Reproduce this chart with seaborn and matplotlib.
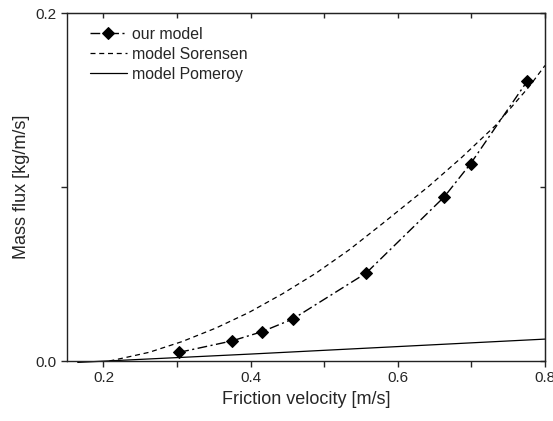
import matplotlib
matplotlib.use("Agg")
import matplotlib.pyplot as plt
import seaborn as sns
from matplotlib.ticker import MultipleLocator

# Data
our_u = [0.303, 0.374, 0.415, 0.457, 0.557, 0.663, 0.699, 0.776]
our_q = [0.0050, 0.0115, 0.0168, 0.0241, 0.0506, 0.0944, 0.1136, 0.1611]

sor_u = [0.208, 0.23, 0.262, 0.307, 0.353, 0.398, 0.443, 0.489, 0.534, 0.579,
         0.642, 0.687, 0.733, 0.778, 0.800]
sor_q = [0.0, 0.0020, 0.0050, 0.0112, 0.0190, 0.0280, 0.0386, 0.0506, 0.0640,
         0.0790, 0.1005, 0.1172, 0.1356, 0.1576, 0.1700]

pom_u = [0.165, 0.4, 0.6, 0.8]
pom_q = [-0.0008, 0.0040, 0.0083, 0.0126]

sns.set_style("ticks")
plt.rcParams['font.family'] = ['Liberation Sans', 'DejaVu Sans']

fig = plt.figure(figsize=(5.53, 4.21), dpi=100)
ax = fig.add_axes([0.1206, 0.1425, 0.865, 0.8259])

sns.lineplot(x=our_u, y=our_q, ax=ax, color='black', lw=1.0, marker='D',
             markersize=6, markeredgecolor='black', dashes=False,
             estimator=None, sort=False, label='our model')
ax.lines[-1].set_dashes([7, 2.5, 1.5, 2.5])
sns.lineplot(x=sor_u, y=sor_q, ax=ax, color='black', lw=0.9,
             estimator=None, sort=False, label='model Sorensen')
ax.lines[-1].set_dashes([4, 3])
sns.lineplot(x=pom_u, y=pom_q, ax=ax, color='black', lw=0.9,
             estimator=None, sort=False, label='model Pomeroy')
ax.lines[-1].set_clip_on(False)  # dips just below the axis at the left

ax.set_xlim(0.15, 0.8)
ax.set_ylim(0.0, 0.2)
ax.set_xticks([0.2, 0.4, 0.6, 0.8])
ax.set_xticklabels(['0.2', '0.4', '0.6', '0.8'])
ax.xaxis.set_minor_locator(MultipleLocator(0.1))
ax.set_yticks([0.0, 0.2])
ax.set_yticklabels(['0.0', '0.2'])
ax.yaxis.set_minor_locator(MultipleLocator(0.1))
ax.tick_params(which='both', direction='out', length=4, width=1, labelsize=11)

# ticks pointing inward on top and right
top = ax.secondary_xaxis('top')
top.set_xticks([0.2, 0.3, 0.4, 0.5, 0.6, 0.7, 0.8])
top.tick_params(direction='in', length=3.5, width=1, labeltop=False)
right = ax.secondary_yaxis('right')
right.set_yticks([0.0, 0.1, 0.2])
right.tick_params(direction='in', length=3.5, width=1, labelright=False)

for sp in ax.spines.values():
    sp.set_linewidth(1.0)
    sp.set_color('#222222')

ax.set_xlabel('Friction velocity [m/s]', fontsize=13)
ax.set_ylabel('Mass flux [kg/m/s]', fontsize=13)

ax.legend(loc='upper left', frameon=False, fontsize=11.4, handlelength=2.35,
          handletextpad=0.3, labelspacing=0.32, borderaxespad=0.45,
          bbox_to_anchor=(0.02, 1.0))

fig.savefig('out.png', dpi=100)
